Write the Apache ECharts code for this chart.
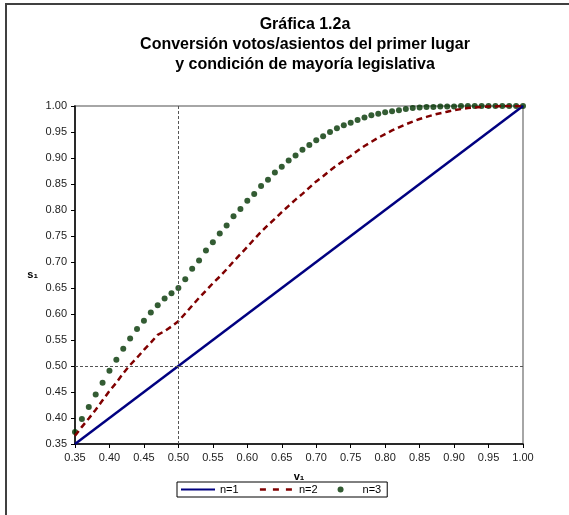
<!DOCTYPE html>
<html>
<head>
<meta charset="utf-8">
<script src="https://cdn.jsdelivr.net/npm/echarts@6/dist/echarts.min.js"></script>
<style>html,body{margin:0;padding:0;background:#fff}#c{width:569px;height:515px}</style>
</head>
<body>
<div id="c"></div>
<script>
var titleLines = ['Gráfica 1.2a', 'Conversión votos/asientos del primer lugar', 'y condición de mayoría legislativa'];
var xTicks = ['0.35','0.40','0.45','0.50','0.55','0.60','0.65','0.70','0.75','0.80','0.85','0.90','0.95','1.00'];
var v = [0.35,0.36,0.37,0.38,0.39,0.40,0.41,0.42,0.43,0.44,0.45,0.46,0.47,0.48,0.49,0.50,0.51,0.52,0.53,0.54,0.55,0.56,0.57,0.58,0.59,0.60,0.61,0.62,0.63,0.64,0.65,0.66,0.67,0.68,0.69,0.70,0.71,0.72,0.73,0.74,0.75,0.76,0.77,0.78,0.79,0.80,0.81,0.82,0.83,0.84,0.85,0.86,0.87,0.88,0.89,0.90,0.91,0.92,0.93,0.94,0.95,0.96,0.97,0.98,0.99,1.00];
var n1v = [0.35, 1.00];
var n1s = [0.35, 1.00];
var n2s = [0.366,0.383,0.399,0.416,0.434,0.452,0.468,0.486,0.502,0.516,0.531,0.545,0.560,0.567,0.576,0.586,0.601,0.616,0.631,0.645,0.659,0.672,0.686,0.701,0.715,0.729,0.744,0.758,0.771,0.783,0.796,0.808,0.820,0.831,0.843,0.855,0.865,0.876,0.886,0.895,0.904,0.914,0.923,0.931,0.939,0.946,0.953,0.959,0.965,0.970,0.975,0.979,0.983,0.986,0.989,0.992,0.994,0.996,0.997,0.998,0.999,0.999,1.000,1.000,1.000,1.000];
var n3s = [0.373,0.398,0.421,0.445,0.468,0.491,0.512,0.533,0.553,0.571,0.587,0.603,0.617,0.630,0.640,0.650,0.667,0.687,0.703,0.722,0.738,0.755,0.770,0.788,0.802,0.818,0.831,0.846,0.858,0.872,0.883,0.895,0.905,0.916,0.925,0.934,0.942,0.950,0.957,0.963,0.968,0.973,0.978,0.982,0.985,0.988,0.990,0.992,0.994,0.996,0.997,0.998,0.998,0.999,0.999,0.999,1.000,1.000,1.000,1.000,1.000,1.000,1.000,1.000,1.000,1.000];
var seriesNames = ['n=1','n=2','n=3'];

function pairs(xs, ys){ return xs.map(function(x,i){ return [x, ys[i]]; }); }

var chart = echarts.init(document.getElementById('c'), null, {renderer:'canvas'});
var axisCommon = {
  type: 'value', min: 0.35, max: 1.0, interval: 0.05,
  axisLine: {show: true, onZero: false, lineStyle: {color: '#000', width: 1.5}},
  axisTick: {show: true, inside: false, length: 4, lineStyle: {color: '#000'}},
  axisLabel: {fontFamily: 'Liberation Sans, Arial', fontSize: 11, color: '#222', formatter: function(val){ return val.toFixed(2); }},
  splitLine: {show: false},
  nameTextStyle: {fontFamily: 'Liberation Sans, Arial', fontSize: 11, fontWeight: 'bold', color: '#000'}
};
var hiddenSym = {color: 'transparent', borderColor: 'transparent', borderWidth: 0};
chart.setOption({
  animation: false,
  backgroundColor: '#fff',
  title: {
    text: titleLines.join('\n'),
    left: 300, top: 10, textAlign: 'center',
    textStyle: {fontFamily: 'Liberation Sans, Arial', fontSize: 16, fontWeight: 'bold', color: '#000', lineHeight: 20}
  },
  graphic: [{
    type: 'rect', shape: {x: 6, y: 4, width: 700, height: 700},
    style: {fill: 'none', stroke: '#404040', lineWidth: 2}, silent: true
  }],
  grid: {left: 75, right: 46, top: 106, bottom: 71, show: true, borderColor: '#a6a6a6', borderWidth: 2, backgroundColor: 'transparent'},
  xAxis: Object.assign({}, axisCommon, {name: 'v₁', nameLocation: 'middle', nameGap: 27}),
  yAxis: Object.assign({}, axisCommon, {name: 's₁', nameLocation: 'middle', nameGap: 37, nameRotate: 0}),
  legend: {
    data: [
      {name: seriesNames[0], itemStyle: hiddenSym},
      {name: seriesNames[1], itemStyle: hiddenSym, lineStyle: {type: [6, 7], width: 2.5, color: '#800000'}},
      {name: seriesNames[2]}
    ],
    left: 177, top: 482,
    borderColor: '#000', borderWidth: 1, padding: [2, 6, 2, 3],
    itemWidth: 34, itemHeight: 6, itemGap: 20,
    textStyle: {fontFamily: 'Liberation Sans, Arial', fontSize: 11, color: '#000'}
  },
  series: [
    {
      name: seriesNames[0], type: 'line', data: pairs(n1v, n1s), symbol: 'none',
      lineStyle: {color: '#000080', width: 2.5}, itemStyle: {color: '#000080'},
      markLine: {
        silent: true, symbol: 'none', label: {show: false},
        lineStyle: {color: '#555', width: 1, type: [3, 2]},
        data: [{xAxis: 0.5}, {yAxis: 0.5}]
      }
    },
    {
      name: seriesNames[1], type: 'line', data: pairs(v, n2s), symbol: 'none',
      lineStyle: {color: '#800000', width: 2.5, type: [6, 4]}, itemStyle: {color: '#800000'}
    },
    {
      name: seriesNames[2], type: 'scatter', data: pairs(v, n3s), symbol: 'circle', symbolSize: 6,
      itemStyle: {color: '#003300'}
    }
  ]
});
</script>
</body>
</html>
